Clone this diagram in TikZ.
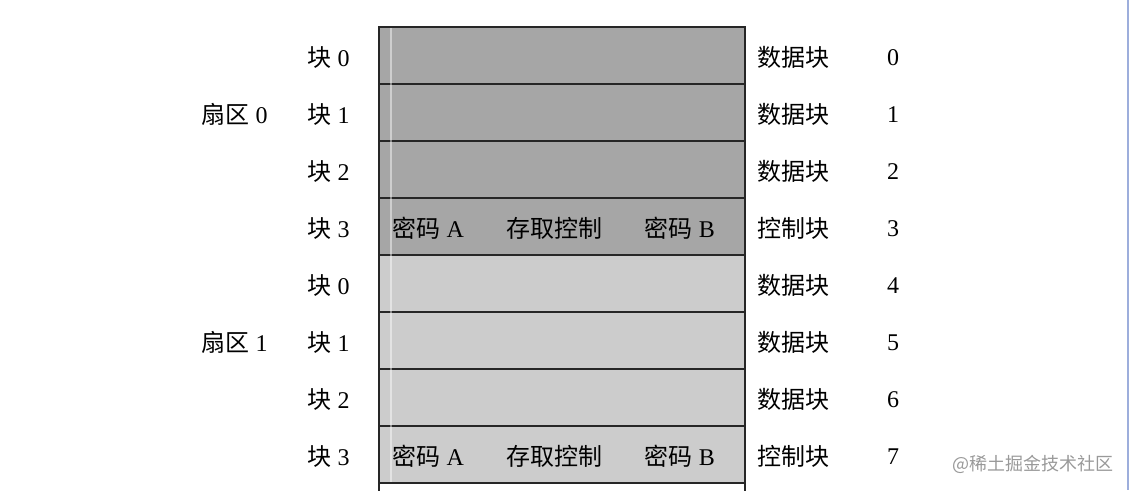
\documentclass[tikz,border=0pt]{standalone}
\usepackage{fontspec}
\setmainfont{Liberation Serif}
\newfontfamily\cjk{Noto Sans CJK SC}
\usetikzlibrary{positioning}

\definecolor{secdark}{HTML}{A6A6A6}
\definecolor{seclight}{HTML}{CCCCCC}
\definecolor{edgeblue}{HTML}{9DAEDC}

\tikzset{
    blockrow/.style = {draw = black!85, line width = 1.1pt, inner sep = 0,
        minimum width = 274.5pt, minimum height = 42.75pt},
    lbl/.style = {inner sep = 0}
}

\begin{document}
\begin{tikzpicture}[x = 0.75pt, y = -0.75pt, font = \fontsize{18}{21}\selectfont]
    \useasboundingbox (0, 0) rectangle (1131, 490);

    %% rows of the sector table
    \foreach \i/\c/\k/\t in {0/secdark/0/数据块, 1/secdark/1/数据块, 2/secdark/2/数据块,
        3/secdark/3/控制块, 4/seclight/0/数据块, 5/seclight/1/数据块,
        6/seclight/2/数据块, 7/seclight/3/控制块} {
        \node[blockrow, fill = \c] (row\i) at (562, 55.5 + 57*\i) {};
        \node[lbl, anchor = east] (blk\i) at (350, 57.5 + 57*\i) {{\cjk 块} \k};
        \node[lbl, anchor = west] (kind\i) at (757, 57.5 + 57*\i) {\cjk \t};
        \node[lbl] (num\i) at (893, 57.5 + 57*\i) {\i};
    }
    \node[blockrow, fill = white] (row8) at (562, 511.5) {};

    %% faint scan line
    \draw[white, opacity = .45, line width = 1pt] (391, 28) -- (391, 482);

    %% sector labels
    \node[lbl, anchor = east] (sec0) at (268, 114.5) {{\cjk 扇区} 0};
    \node[lbl, anchor = east] (sec1) at (268, 342.5) {{\cjk 扇区} 1};

    %% control block fields
    \foreach \r in {3, 7} {
        \node[lbl, anchor = west] (keya\r) at ([xshift = 10.5pt, yshift = -1.5pt]row\r.west) {{\cjk 密码} A};
        \node[lbl] (acc\r) at ([xshift = -6pt, yshift = -1.5pt]row\r.center) {\cjk 存取控制};
        \node[lbl, anchor = east] (keyb\r) at ([xshift = -23pt, yshift = -1.5pt]row\r.east) {{\cjk 密码} B};
    }

    %% watermark and page edge
    \node[lbl, text = black!40, font = \fontsize{13.5}{16}\selectfont\cjk] (mark) at (1033, 464) {@稀土掘金技术社区};
    \draw[edgeblue, line width = 1.1pt] (1128, 0) -- (1128, 490);
\end{tikzpicture}
\end{document}
